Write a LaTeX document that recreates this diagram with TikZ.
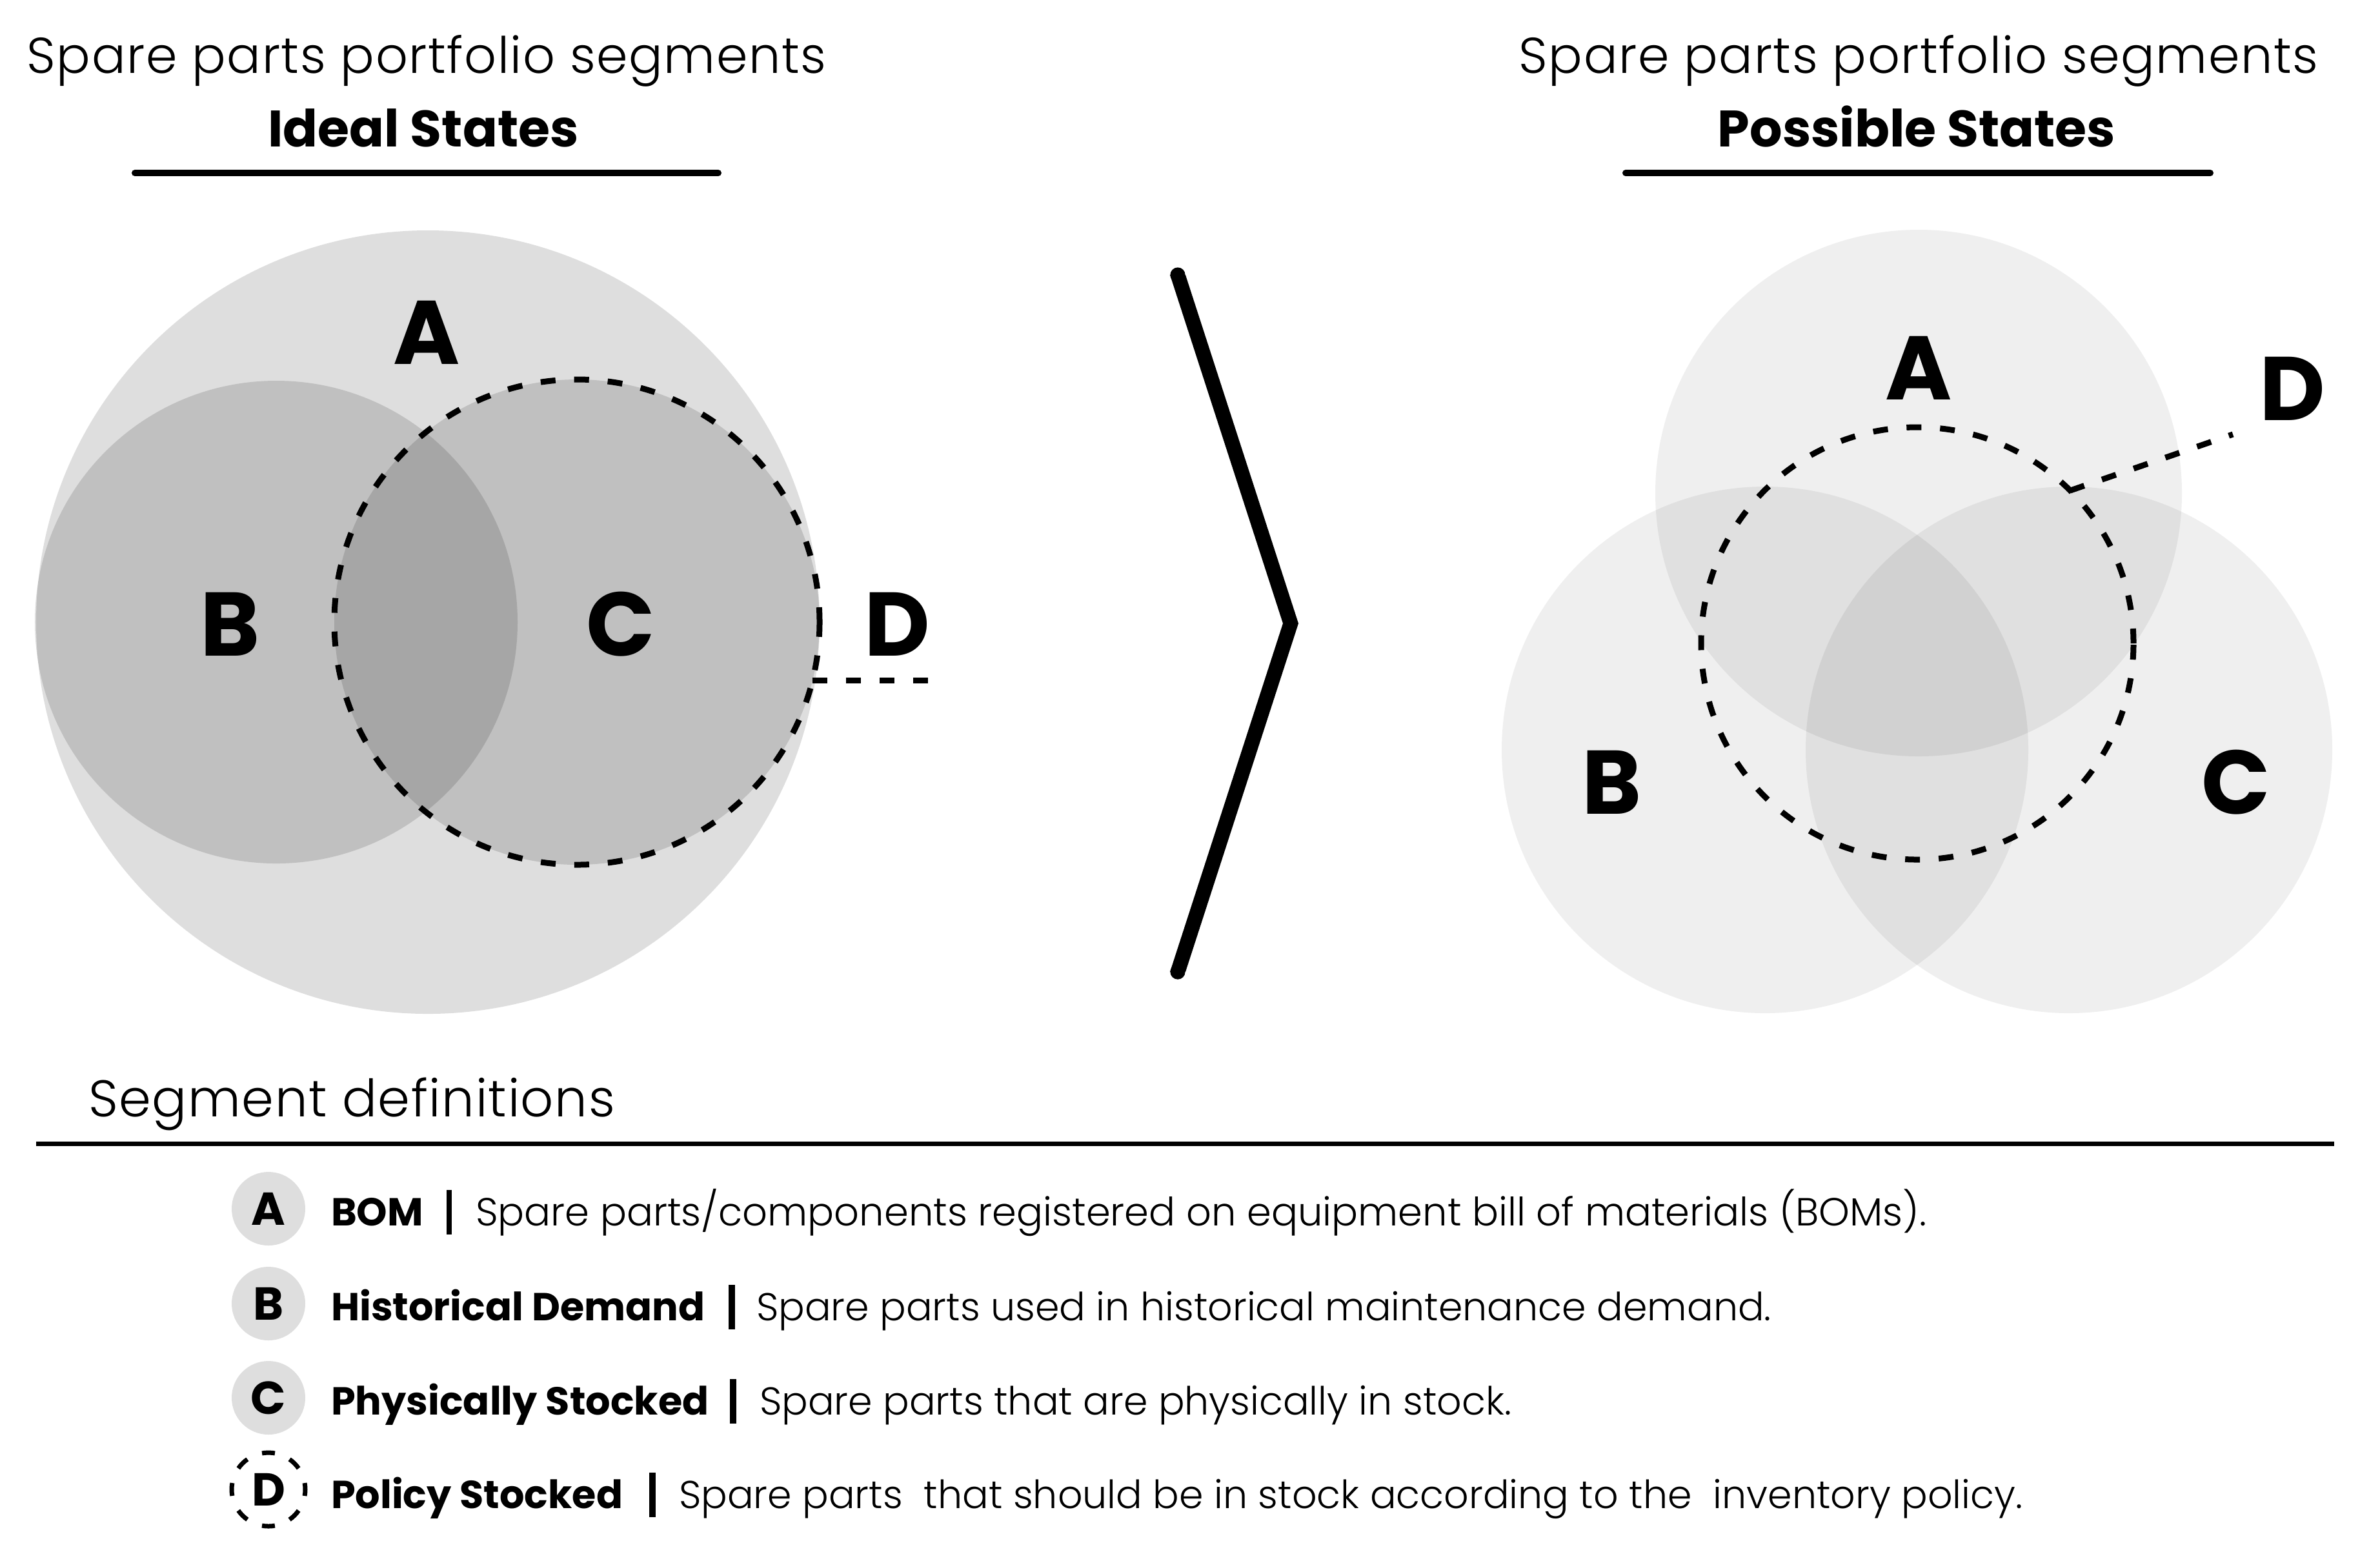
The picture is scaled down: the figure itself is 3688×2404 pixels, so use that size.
\documentclass[tikz,border=0pt]{standalone}
\usepackage{fontspec}
\setmainfont{Poppins}
\IfFontExistsTF{Poppins Light}{%
  \newfontfamily\lightfont{Poppins Light}%
  \newfontfamily\lightspfont{Poppins Light}[LetterSpace=2]}{%
  \newfontfamily\lightfont{Poppins}%
  \newfontfamily\lightspfont{Poppins}[LetterSpace=2]}
\definecolor{ga}{HTML}{DEDEDE}
\tikzset{
  ttl/.style={font=\lightspfont\fontsize{15.6}{18}\selectfont, anchor=base, inner sep=0},
  segttl/.style={font=\lightspfont\fontsize{16.0}{18}\selectfont, anchor=base west, inner sep=0},
  subttl/.style={font=\bfseries\fontsize{15.9}{18}\selectfont, anchor=base, inner sep=0},
  biglet/.style={font=\bfseries\fontsize{28}{32}\selectfont, anchor=base, inner sep=0},
  legterm/.style={font=\bfseries\fontsize{12.1}{14}\selectfont, anchor=base west, inner sep=0},
  legdesc/.style={font=\lightfont\fontsize{12.05}{14}\selectfont, anchor=base west, inner sep=0},
  legbar/.style={anchor=base, inner sep=0},
  legcirc/.style={circle, fill=ga, minimum size=22.8pt, inner sep=0, outer sep=0, font=\bfseries\fontsize{14.3}{16}\selectfont},
  legdcirc/.style={circle, draw, line width=1.4pt, dash pattern=on 4pt off 4.95pt, dash phase=2pt, minimum size=22.8pt, inner sep=0, outer sep=0, font=\bfseries\fontsize{14.3}{16}\selectfont},
  dashln/.style={line width=1.8pt, dash pattern=on 4.6pt off 5.8pt},
  venn/.style={circle, inner sep=0, outer sep=0},
  rulel/.style={line width=2pt, line cap=round},
}
\begin{document}
\begin{tikzpicture}[x=0.2pt, y=-0.2pt]
\useasboundingbox (0,0) rectangle (3688,2404);
\fill[white] (0,0) rectangle (3688,2404);

% ---------- left panel ----------
\node[ttl] (t1) at (661,113) {Spare parts portfolio segments};
\node[subttl] (s1) at (656,227) {Ideal States};
\draw[rulel] (209,268) -- (1113,268);

\node[venn, fill=ga, minimum size=242.8pt] (lA) at (663,964) {};
\node[venn, fill=black, fill opacity=0.135, minimum size=149.6pt] (lB) at (428,964) {};
\node[venn, fill=black, fill opacity=0.135, minimum size=150.4pt] (lC) at (894,964) {};
\node[venn, draw, dashln, minimum size=150.4pt] (lD) at (894,964) {};

\node[biglet] (lAl) at (661,564) {A};
\node[biglet] (lBl) at (357,1016) {B};
\node[biglet] (lCl) at (962,1016) {C};
\node[biglet] (lDl) at (1390,1016) {D};
\coordinate (ldend) at (1450,1060);
\draw[dashln] (lD.-14.8) -- (lD.-14.8 -| ldend);

% ---------- chevron ----------
\fill (1813,426) -- (1988,966) -- (1813,1506) -- (1837,1506) -- (2012,966) -- (1837,426) -- cycle;
\fill (1825,426) circle[radius=11.6];
\fill (1825,1506) circle[radius=11.6];

% ---------- right panel ----------
\node[ttl] (t2) at (2973,113) {Spare parts portfolio segments};
\node[subttl] (s2) at (2970,227) {Possible States};
\draw[rulel] (2519,268) -- (3425,268);

\node[venn, fill=black, fill opacity=0.063, minimum size=163.2pt] (rA) at (2973,764) {};
\node[venn, fill=black, fill opacity=0.063, minimum size=163.2pt] (rB) at (2735,1162) {};
\node[venn, fill=black, fill opacity=0.063, minimum size=163.2pt] (rC) at (3206,1162) {};
\node[venn, draw, dashln, minimum size=134pt] (rD) at (2971,997) {};

\node[biglet] (rAl) at (2973,619) {A};
\node[biglet] (rBl) at (2498,1261) {B};
\node[biglet] (rCl) at (3465,1261) {C};
\node[biglet] (rDl) at (3552,651) {D};
\coordinate (rdend) at (3460,673);
\draw[dashln] (rD.45) -- (rdend);

% ---------- legend ----------
\node[segttl] (segdef) at (136,1730) {Segment definitions};
\draw[line width=1.4pt] (56,1772) -- (3617,1772);

\node[legcirc] (kA) at (416,1873) {A};
\node[legcirc] (kB) at (416,2020) {B};
\node[legcirc] (kC) at (416,2166) {C};
\node[legdcirc] (kD) at (416,2308) {D};

\node[legterm] (tA) at (512,1899) {BOM};
\node[legbar] (bA) at (696,1899) {\rule[-2.8pt]{1.5pt}{13.8pt}};
\node[legdesc, font=\lightfont\fontsize{12.15}{14}\selectfont] (dA) at (736,1899) {Spare parts/components registered on equipment bill of materials (BOMs).};

\node[legterm] (tB) at (512,2046) {Historical Demand};
\node[legbar] (bB) at (1134,2046) {\rule[-2.8pt]{2.1pt}{13.8pt}};
\node[legdesc] (dB) at (1171,2046) {Spare parts used in historical maintenance demand.};

\node[legterm] (tC) at (512,2192) {Physically Stocked};
\node[legbar] (bC) at (1136,2192) {\rule[-2.8pt]{2.1pt}{13.8pt}};
\node[legdesc] (dC) at (1176,2192) {Spare parts that are physically in stock.};

\node[legterm] (tD) at (512,2337) {Policy Stocked};
\node[legbar] (bD) at (1011,2337) {\rule[-2.8pt]{2.1pt}{13.8pt}};
\node[legdesc] (dD) at (1051,2337) {Spare parts\ \ that should be in stock according to the\ \ inventory policy.};
\end{tikzpicture}
\end{document}
